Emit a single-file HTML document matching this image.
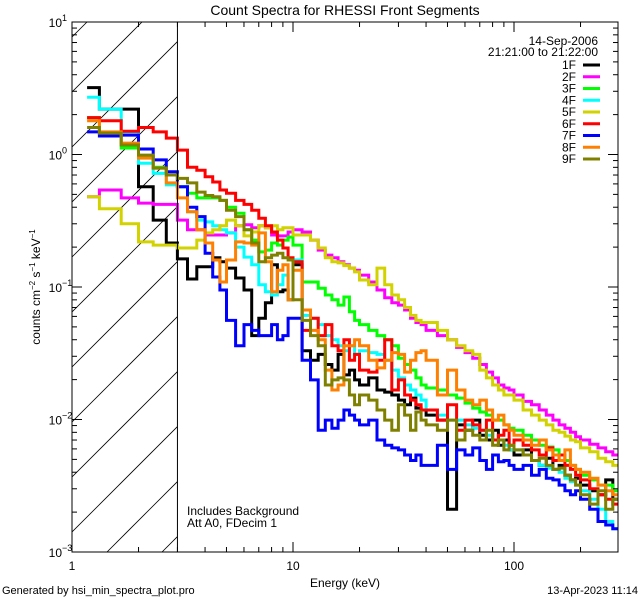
<!DOCTYPE html>
<html><head><meta charset="utf-8"><style>
html,body{margin:0;padding:0;background:#fff;width:640px;height:600px;overflow:hidden;}
svg{display:block;font-family:"Liberation Sans",sans-serif;}
</style></head><body>
<svg id="chart" width="640" height="600" viewBox="0 0 640 600" xmlns="http://www.w3.org/2000/svg" overflow="hidden">
<defs><clipPath id="plotclip"><rect x="72" y="22" width="546" height="530"/></clipPath></defs>
<rect x="0" y="0" width="640" height="600" fill="#fff"/>
<text x="345" y="15" font-size="14" text-anchor="middle">Count Spectra for RHESSI Front Segments</text>
<g id="hatch" clip-path="url(#hatchclip)"></g>
<g id="series" clip-path="url(#plotclip)"></g>
<g id="axes"></g>
<text transform="translate(40,287) rotate(-90)" font-size="12" text-anchor="middle">counts cm<tspan font-size="8" dy="-5">−2</tspan><tspan dy="5"> s</tspan><tspan font-size="8" dy="-5">−1</tspan><tspan dy="5"> keV</tspan><tspan font-size="8" dy="-5">−1</tspan></text>
<text x="345" y="587" font-size="12" text-anchor="middle">Energy (keV)</text>
<text x="2" y="594" font-size="11">Generated by hsi_min_spectra_plot.pro</text>
<text x="638" y="594" font-size="11" text-anchor="end">13-Apr-2023 11:14</text>
<text x="187" y="515" font-size="12">Includes Background</text>
<text x="187" y="527" font-size="12">Att A0, FDecim 1</text>
<text x="598" y="45" font-size="12" text-anchor="end">14-Sep-2006</text>
<text x="598" y="56" font-size="12" text-anchor="end">21:21:00 to 21:22:00</text>
<g id="legend"></g>
</svg>
<script>
const NS="http://www.w3.org/2000/svg";
const energyEdges=[1.17,1.33,1.67,2,2.33,2.67,3,3.33,3.67,4,4.33,4.67,5,5.5,6,6.5,7,7.5,8,8.5,9,9.5,10,11,12,13,14,15,16,17,18,19,20,22,24,26,28,30,32,34,36,38,40,45,50,55,60,65,70,75,80,85,90,95,100,110,120,130,140,150,160,170,180,190,200,220,240,260,280,295];
const seriesNames=["1F","2F","3F","4F","5F","6F","7F","8F","9F"];
const counts1F=[3.2,2.2,2.2,0.57,0.32,0.215,0.163,0.115,0.142,0.142,0.166,0.155,0.139,0.117,0.095,0.043,0.058,0.076,0.147,0.092,0.095,0.08,0.147,0.033,0.028,0.031,0.026,0.0236,0.031,0.0217,0.0236,0.0199,0.0182,0.0206,0.0167,0.0161,0.0153,0.014,0.0129,0.0145,0.0122,0.0118,0.0108,0.0099,0.0021,0.0091,0.0083,0.0099,0.0076,0.007,0.0083,0.0064,0.007,0.0059,0.0054,0.0059,0.0049,0.0045,0.0051,0.0042,0.0045,0.0038,0.0035,0.0036,0.0032,0.0029,0.0027,0.0035,0.0025];
const counts2F=[0.48,0.54,0.47,0.43,0.42,0.42,0.32,0.27,0.27,0.247,0.247,0.247,0.256,0.29,0.295,0.28,0.29,0.28,0.247,0.243,0.243,0.26,0.27,0.26,0.226,0.19,0.174,0.166,0.155,0.147,0.139,0.134,0.123,0.109,0.095,0.083,0.076,0.073,0.067,0.058,0.054,0.052,0.047,0.043,0.04,0.035,0.032,0.029,0.026,0.0228,0.0206,0.0182,0.0173,0.0167,0.0153,0.0137,0.0129,0.0118,0.0108,0.0099,0.0091,0.0086,0.008,0.0074,0.007,0.0065,0.0061,0.0057,0.0054];
const counts3F=[1.9,1.45,1.12,0.96,0.8,0.7,0.57,0.51,0.47,0.47,0.47,0.45,0.4,0.36,0.27,0.226,0.184,0.19,0.215,0.207,0.226,0.238,0.207,0.109,0.109,0.098,0.087,0.08,0.073,0.084,0.065,0.056,0.052,0.047,0.043,0.04,0.036,0.029,0.026,0.0236,0.0206,0.0182,0.0173,0.0167,0.0153,0.0145,0.0133,0.0122,0.0114,0.0108,0.0099,0.0099,0.0091,0.0086,0.0083,0.0076,0.007,0.0064,0.0062,0.0059,0.0054,0.0049,0.0045,0.0042,0.0038,0.0035,0.0032,0.0032,0.0029];
const counts4F=[2.7,2.2,1.48,0.86,0.72,0.59,0.57,0.37,0.32,0.31,0.29,0.27,0.256,0.2,0.168,0.147,0.104,0.092,0.087,0.104,0.123,0.08,0.16,0.061,0.058,0.052,0.043,0.04,0.036,0.033,0.036,0.031,0.033,0.032,0.031,0.028,0.0236,0.0206,0.0182,0.0167,0.0153,0.014,0.0118,0.0108,0.0099,0.0099,0.0091,0.0086,0.0083,0.0076,0.007,0.007,0.0064,0.0059,0.0059,0.0054,0.0049,0.0045,0.0043,0.0042,0.004,0.0036,0.0034,0.0032,0.0029,0.0025,0.0021,0.0017,0.0015];
const counts5F=[0.48,0.39,0.3,0.219,0.207,0.207,0.197,0.197,0.226,0.256,0.27,0.29,0.32,0.29,0.243,0.26,0.29,0.28,0.29,0.27,0.28,0.28,0.247,0.247,0.226,0.197,0.166,0.155,0.152,0.145,0.139,0.13,0.113,0.104,0.139,0.104,0.087,0.08,0.07,0.061,0.056,0.054,0.054,0.047,0.04,0.036,0.033,0.031,0.0236,0.0206,0.0182,0.0167,0.0153,0.0153,0.014,0.0118,0.0108,0.0099,0.0091,0.0083,0.008,0.0075,0.007,0.0068,0.0061,0.0057,0.0051,0.0048,0.0045];
const counts6F=[1.9,1.8,1.5,1.6,1.48,1.33,1.08,0.8,0.76,0.68,0.62,0.54,0.51,0.45,0.42,0.38,0.33,0.29,0.26,0.226,0.197,0.166,0.155,0.047,0.058,0.043,0.052,0.036,0.033,0.04,0.028,0.031,0.0236,0.0228,0.028,0.04,0.0167,0.0199,0.0153,0.014,0.0129,0.0118,0.0118,0.0099,0.0129,0.0083,0.0099,0.0091,0.0083,0.0099,0.007,0.0076,0.0083,0.0064,0.007,0.0064,0.0059,0.0054,0.0061,0.0049,0.0054,0.0045,0.0042,0.0038,0.0035,0.003,0.0027,0.0025,0.0023];
const counts7F=[1.48,1.38,1.4,1.1,0.91,0.74,0.57,0.4,0.34,0.18,0.119,0.095,0.056,0.036,0.052,0.047,0.043,0.043,0.052,0.04,0.043,0.058,0.058,0.028,0.0199,0.0083,0.0099,0.0086,0.0099,0.0118,0.0108,0.0099,0.0091,0.0099,0.007,0.0064,0.0061,0.0059,0.0054,0.0049,0.0054,0.0045,0.0045,0.0064,0.0042,0.0059,0.0054,0.0061,0.0049,0.0042,0.0054,0.0048,0.0049,0.0045,0.0042,0.0045,0.0038,0.0042,0.0036,0.0035,0.0032,0.0029,0.0027,0.0029,0.0025,0.0021,0.0017,0.0016,0.0015];
const counts8F=[1.8,1.48,1.22,0.94,0.79,0.61,0.47,0.37,0.27,0.215,0.16,0.109,0.16,0.219,0.215,0.207,0.256,0.155,0.092,0.134,0.147,0.08,0.134,0.067,0.047,0.04,0.0236,0.0167,0.0182,0.036,0.036,0.04,0.036,0.028,0.0245,0.028,0.032,0.031,0.0228,0.028,0.032,0.033,0.028,0.0153,0.0236,0.0167,0.014,0.0129,0.014,0.0118,0.0099,0.0108,0.0091,0.0083,0.0076,0.007,0.0064,0.007,0.0059,0.0054,0.0049,0.0059,0.0045,0.0042,0.004,0.0036,0.0032,0.0029,0.0027];
const counts9F=[1.6,1.45,1.18,0.99,0.79,0.7,0.66,0.61,0.52,0.49,0.48,0.45,0.38,0.34,0.27,0.215,0.155,0.166,0.174,0.18,0.166,0.16,0.08,0.056,0.043,0.036,0.0182,0.0199,0.0206,0.0199,0.0153,0.0129,0.0153,0.014,0.0118,0.0099,0.0083,0.0129,0.0108,0.0083,0.0114,0.0099,0.0091,0.0083,0.0099,0.007,0.0083,0.0076,0.007,0.0083,0.0064,0.007,0.0059,0.0064,0.0059,0.0054,0.0049,0.0051,0.0045,0.0042,0.0043,0.0038,0.0035,0.0032,0.0027,0.0023,0.0029,0.0021,0.0025];
const allCounts=[counts1F,counts2F,counts3F,counts4F,counts5F,counts6F,counts7F,counts8F,counts9F];
const seriesColors=["#000000","#ff00ff","#00ff00","#00ffff","#d2d200","#ff0000","#0000ff","#ff8000","#808000"];
const xTickLabels=["1","10","100"];
const yTickExponents=[1,0,-1,-2,-3];

const PL=72,PR=618,PT=22,PB=552;
const YMIN=-3,YMAX=1;
function xs(e){return PL+Math.log10(e)*221;}
function ys(v){return PT+(YMAX-Math.log10(v))/(YMAX-YMIN)*(PB-PT);}
function el(tag,attrs,parent){const e=document.createElementNS(NS,tag);for(const k in attrs)e.setAttribute(k,attrs[k]);parent.appendChild(e);return e;}

const svg=document.getElementById('chart');
const defs=svg.querySelector('defs');
const hc=el('clipPath',{id:'hatchclip'},defs);
const HW=xs(3)-PL;
el('rect',{x:PL,y:PT,width:HW,height:PB-PT},hc);
const hatch=document.getElementById('hatch');
for(let k=-12;k<12;k++){
  const y0=PB-20+k*55;
  if(y0<PT||y0-HW>PB)continue;
  const y1=Math.min(y0,PB), x1=PL+(y0-y1);
  const y2=Math.max(y0-HW,PT), x2=PL+(y0-y2);
  const ln=el('line',{x1:x1,y1:y1,x2:x2,y2:y2,stroke:'#000','stroke-width':0.8},hatch);
  
  
}
const vline=el('line',{x1:xs(3),y1:PT,x2:xs(3),y2:PB,stroke:'#000','stroke-width':1},svg);



const sg=document.getElementById('series');
allCounts.forEach((vals,si)=>{
  let d='';
  for(let i=0;i<vals.length;i++){
    const x0=xs(energyEdges[i]),x1=Math.min(xs(energyEdges[i+1]),PR),y=ys(vals[i]);
    d+=(i===0?'M':'L')+x0.toFixed(1)+','+y.toFixed(1)+'L'+x1.toFixed(1)+','+y.toFixed(1);
  }
  const p=el('path',{d:d,fill:'none',stroke:seriesColors[si],'stroke-width':3,'stroke-linejoin':'miter'},sg);
  
  
});

const ax=document.getElementById('axes');
const frame=el('rect',{x:PL,y:PT,width:PR-PL,height:PB-PT,fill:'none',stroke:'#000','stroke-width':1},ax);


for(let dec=0;dec<3;dec++){
  for(let m=1;m<10;m++){
    const e=m*Math.pow(10,dec);const x=xs(e);
    if(x>PR)continue;
    const len=m===1?10:5;
    const t1=el('line',{x1:x,y1:PB,x2:x,y2:PB-len,stroke:'#000'},ax);
    
    
    const t2=el('line',{x1:x,y1:PT,x2:x,y2:PT+len,stroke:'#000'},ax);
    
    
  }
}
xTickLabels.forEach(s=>{
  const t=el('text',{x:xs(parseFloat(s)),y:570,'font-size':12,'text-anchor':'middle'},ax);
  t.textContent=s;
  
  
});
for(let dec=-3;dec<1;dec++){
  for(let m=1;m<10;m++){
    const v=m*Math.pow(10,dec);const y=ys(v);
    const len=m===1?10:5;
    const t1=el('line',{x1:PL,y1:y,x2:PL+len,y2:y,stroke:'#000'},ax);
    
    
    const t2=el('line',{x1:PR,y1:y,x2:PR-len,y2:y,stroke:'#000'},ax);
    
    
  }
}
yTickExponents.forEach(p=>{
  const y=ys(Math.pow(10,p));
  const t=el('text',{x:62,y:y+5,'font-size':12,'text-anchor':'end'},ax);
  t.textContent='10';
  
  
  const s=el('text',{x:62,y:y-1,'font-size':9},ax);
  s.textContent=(p<0?'−':'')+Math.abs(p);
  
  
});

const lg=document.getElementById('legend');
seriesNames.forEach((n,i)=>{
  const y=65+i*11.75;
  const t=el('text',{x:576,y:y+4,'font-size':12,'text-anchor':'end'},lg);
  t.textContent=n;
  
  
  const l=el('line',{x1:583,y1:y,x2:600,y2:y,stroke:seriesColors[i],'stroke-width':3},lg);
  
  
});
</script>
</body></html>
